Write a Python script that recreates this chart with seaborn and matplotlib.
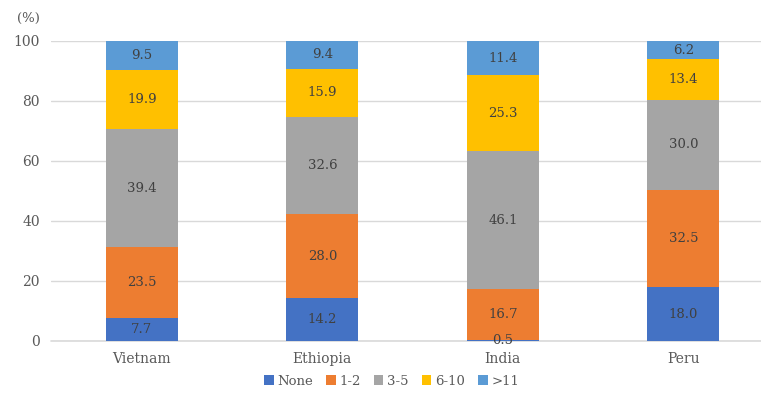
import matplotlib
matplotlib.use("Agg")
import matplotlib.pyplot as plt
import seaborn as sns
import numpy as np
import pandas as pd

countries = ["Vietnam", "Ethiopia", "India", "Peru"]
categories = ["None", "1-2", "3-5", "6-10", ">11"]
none_vals = [7.7, 14.2, 0.5, 18.0]
v12 = [23.5, 28.0, 16.7, 32.5]
v35 = [39.4, 32.6, 46.1, 30.0]
v610 = [19.9, 15.9, 25.3, 13.4]
v11 = [9.5, 9.4, 11.4, 6.2]
colors = ["#4472C4", "#ED7D31", "#A5A5A5", "#FFC000", "#5B9BD5"]
yticks = [0, 20, 40, 60, 80, 100]

series = [none_vals, v12, v35, v610, v11]

sns.set_style("white")
plt.rcParams["font.family"] = ["DejaVu Serif"]

fig = plt.figure(figsize=(7.61, 4.0), dpi=100)
ax = fig.add_axes([0.067, 0.1475, 0.933, 0.75])

cum = np.cumsum(np.array(series), axis=0)
# draw from top-most cumulative down so each segment shows
for i in range(len(series) - 1, -1, -1):
    df = pd.DataFrame({"country": countries, "value": cum[i]})
    sns.barplot(data=df, x="country", y="value", color=colors[i], saturation=1,
                width=0.4, ax=ax, label=categories[i], zorder=3,
                edgecolor="none", linewidth=0)

# labels
for i, vals in enumerate(series):
    for j, v in enumerate(vals):
        base = cum[i][j] - v
        ax.text(j, base + v / 2, f"{v:.1f}", ha="center", va="center",
                fontsize=9.5, color="#404040", zorder=5)

ax.set_ylim(0, 100)
ax.set_xlim(-0.503, 3.43)
ax.set_yticks(yticks)
ax.yaxis.grid(True, color="#D9D9D9", linewidth=1, zorder=0)
ax.axhline(0, color="#D9D9D9", linewidth=1.2, zorder=2, clip_on=False)
ax.set_axisbelow(True)
for s in ax.spines.values():
    s.set_visible(False)
ax.set_xlabel("")
ax.set_ylabel("")
ax.tick_params(axis="both", length=0, labelsize=10, colors="#595959")
ax.tick_params(axis="y", pad=8)
ax.tick_params(axis="x", pad=8)

fig.text(0.022, 0.955, "(%)", fontsize=9.5, color="#595959", ha="left", va="center")

handles, labels = ax.get_legend_handles_labels()
order = [labels.index(c) for c in categories]
leg = fig.legend([handles[k] for k in order], categories, loc="center",
                 bbox_to_anchor=(0.515, 0.047), ncol=5, frameon=False,
                 fontsize=9.5, handlelength=0.7, handleheight=0.7,
                 handletextpad=0.3, columnspacing=1.0)
for t in leg.get_texts():
    t.set_color("#595959")
if ax.get_legend() is not None:
    ax.get_legend().remove()

fig.savefig("out.png", dpi=100)
